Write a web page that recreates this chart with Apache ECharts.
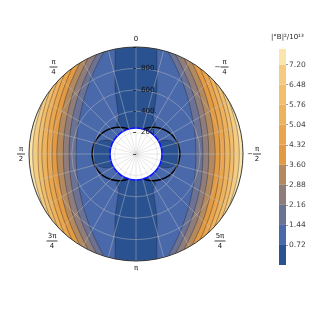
<!DOCTYPE html>
<html><head><meta charset="utf-8">
<script src="https://cdn.jsdelivr.net/npm/echarts@6/dist/echarts.min.js"></script>
<style>html,body{margin:0;padding:0;background:#fff}#c{width:311px;height:311px}</style>
</head><body><div id="c"></div>
<script>
// heights (radial units) at which contour half-widths are sampled
const ySamples = [0, 200, 400, 600, 800, 1000, 1150];
// half-width |x| of each filled-contour boundary at those heights
const c144 = [560, 550, 515, 460, 380, 275, 185];
const c216 = [625, 615, 580, 520, 435, 330, 235];
const c288 = [680, 670, 635, 580, 495, 390, 300];
const c360 = [740, 725, 690, 635, 550, 445, 350];
const c432 = [785, 775, 740, 680, 600, 500, 405];
const c504 = [830, 820, 785, 725, 645, 540, 445];
const c576 = [880, 865, 830, 765, 680, 570, 470];
const c648 = [915, 905, 865, 800, 705, 590, 485];
const c720 = [965, 950, 900, 825, 715, 600, 500];
// 0.72 contour: polar strip and equatorial lobes
const stripY = [1150, 1000, 800, 600, 400, 330, 270, 225, 205];
const stripX = [195, 195, 195, 195, 170, 160, 180, 95, 0];
const lobeX = [150, 167, 215, 280, 345, 393, 410];
const lobeY = [0, 65, 113, 130, 113, 65, 0];
// thick black boundary around the body
const sepX = [66, 117, 160, 225, 285, 337, 377, 401, 410];
const sepY = [232, 246, 250, 241, 217, 177, 125, 65, 0];
const innerRadius = 243;
const outerRadius = 1000;
// colour bar
const levels = [0, 0.72, 1.44, 2.16, 2.88, 3.60, 4.32, 5.04, 5.76, 6.48, 7.20];
const cbMax = 7.76;
const bandColors = ['#2a5290', '#4a69aa', '#6b7293', '#8e7d7a', '#b38a60', '#e29a43',
                    '#e9a64f', '#edb25d', '#f0be6d', '#f4cb80', '#fae6ad'];
const angleTicks = [0, 45, 90, 135, 180, 225, 270, 315];
const angleLabels = ['0', 'π/4', 'π/2', '3π/4', 'π', '5π/4', '-π/2', '-π/4'];
const cbTitle = '|°B|²/10¹³';

const contours = [c144, c216, c288, c360, c432, c504, c576, c648, c720];
const lineCol = 'rgba(25,25,35,0.6)';

function bandPoly(hw) {
  const n = ySamples.length, pts = [];
  for (let i = n - 1; i > 0; i--) pts.push([hw[i], -ySamples[i]]);
  for (let i = 0; i < n; i++) pts.push([hw[i], ySamples[i]]);
  for (let i = n - 1; i > 0; i--) pts.push([-hw[i], ySamples[i]]);
  for (let i = 0; i < n; i++) pts.push([-hw[i], -ySamples[i]]);
  return pts;
}
function stripPoly(sgn) {
  const pts = [];
  for (let i = 0; i < stripY.length; i++) pts.push([stripX[i], sgn * stripY[i]]);
  for (let i = stripY.length - 1; i >= 0; i--) pts.push([-stripX[i], sgn * stripY[i]]);
  return pts;
}
function lobePoly(sgn) {
  const pts = [];
  for (let i = 0; i < lobeX.length; i++) pts.push([sgn * lobeX[i], lobeY[i]]);
  for (let i = lobeX.length - 2; i > 0; i--) pts.push([sgn * lobeX[i], -lobeY[i]]);
  return pts;
}
function sepLine(sgn) {
  const pts = [];
  for (let i = 0; i < sepX.length; i++) pts.push([sgn * sepX[i], sepY[i]]);
  for (let i = sepX.length - 2; i >= 0; i--) pts.push([sgn * sepX[i], -sepY[i]]);
  return pts;
}

function renderField(params, api) {
  const c = api.coord([0, 0]);
  const r = api.size([outerRadius, 0])[0];
  const ri = api.size([innerRadius, 0])[0];
  const P = a => a.map(p => api.coord(p));
  const ch = [];
  ch.push({type: 'circle', shape: {cx: c[0], cy: c[1], r: r}, style: {fill: bandColors[10]}});
  for (let k = contours.length - 1; k >= 0; k--) {
    ch.push({type: 'polygon', shape: {points: P(bandPoly(contours[k])), smooth: 0.35},
      style: {fill: bandColors[k + 1], stroke: lineCol, lineWidth: 0.6}});
  }
  [1, -1].forEach(s => ch.push({type: 'polygon', shape: {points: P(stripPoly(s)), smooth: 0.3},
    style: {fill: bandColors[0], stroke: lineCol, lineWidth: 0.6}}));
  [1, -1].forEach(s => ch.push({type: 'polygon', shape: {points: P(lobePoly(s)), smooth: 0.4},
    style: {fill: bandColors[0], stroke: lineCol, lineWidth: 0.6}}));
  ch.push({type: 'ring', shape: {cx: c[0], cy: c[1], r0: r, r: r + 33}, style: {fill: '#ffffff'}});
  [1, -1].forEach(s => ch.push({type: 'polyline', shape: {points: P(sepLine(s)), smooth: 0.4},
    style: {fill: null, stroke: '#000', lineWidth: 1.4}}));
  ch.push({type: 'circle', shape: {cx: c[0], cy: c[1], r: ri}, style: {fill: '#fff', stroke: '#0a14ff', lineWidth: 1.6}});
  return {type: 'group', children: ch};
}

function angleFmt(v) {
  const i = angleTicks.indexOf(v);
  if (i < 0) return '';
  const lbl = angleLabels[i];
  if (lbl.indexOf('/') < 0) return '{t|' + lbl + '}';
  const neg = lbl[0] === '-';
  const s = neg ? lbl.slice(1) : lbl;
  const parts = s.split('/');
  const w = parts[0].length > 1 ? 'w' : '';
  const sp = neg ? '{sp| }' : '';
  return sp + '{n' + w + '|' + parts[0] + '}\n' + (neg ? '{m|−}' : '') + '{b' + w + '| }\n' + sp + '{n' + w + '|' + parts[1] + '}';
}

const chart = echarts.init(document.getElementById('c'), null, {renderer: 'canvas'});
const gridLine = {color: 'rgba(200,200,200,0.6)', width: 0.7};
const series = [{
  type: 'custom', xAxisIndex: 0, yAxisIndex: 0, data: [[0, 0]], renderItem: renderField,
  silent: true, clip: false, z: 1, animation: false
}];
for (let i = 0; i < bandColors.length; i++) {
  const top = i + 1 < levels.length ? levels[i + 1] : cbMax;
  series.push({type: 'bar', xAxisIndex: 1, yAxisIndex: 1, stack: 'cb', barWidth: '100%', silent: true, z: 2,
    data: [+(top - levels[i]).toFixed(4)], itemStyle: {color: bandColors[i]}});
}
chart.setOption({
  animation: false,
  textStyle: {fontFamily: 'DejaVu Sans'},
  polar: {center: [136, 154], radius: 107},
  angleAxis: {
    type: 'value', min: 0, max: 360, interval: 15, startAngle: 90, clockwise: false, z: 5,
    axisLine: {show: true, lineStyle: {color: '#111', width: 0.8}},
    axisTick: {show: false},
    splitLine: {show: true, lineStyle: gridLine},
    axisLabel: {
      formatter: angleFmt, margin: 4, color: '#111', fontSize: 7, fontFamily: 'DejaVu Sans',
      rich: {
        t: {fontSize: 7, fontFamily: 'DejaVu Sans', color: '#111'},
        n: {fontSize: 7, width: 8, align: 'center', lineHeight: 7, color: '#111'},
        nw: {fontSize: 7, width: 11, align: 'center', lineHeight: 7, color: '#111'},
        b: {width: 8, height: 0.8, lineHeight: 3, backgroundColor: '#111'},
        bw: {width: 11, height: 0.8, lineHeight: 3, backgroundColor: '#111'},
        m: {fontSize: 7, width: 6, align: 'left', lineHeight: 3, color: '#111'},
        sp: {width: 6, fontSize: 7}
      }
    }
  },
  radiusAxis: {
    type: 'value', min: 0, max: outerRadius, interval: 200, z: 5,
    axisLine: {show: false},
    axisTick: {show: true, inside: true, length: 3, lineStyle: {color: '#111', width: 0.7}},
    axisLabel: {formatter: v => (v > 0 && v < outerRadius) ? v + '.' : '', fontSize: 7, color: '#111',
      margin: -5, align: 'left'},
    splitLine: {show: true, lineStyle: gridLine}
  },
  grid: [
    {left: 29, top: 47, width: 214, height: 214},
    {left: 279, top: 49, width: 7, height: 216}
  ],
  xAxis: [
    {gridIndex: 0, type: 'value', min: -outerRadius, max: outerRadius, show: false},
    {gridIndex: 1, type: 'category', data: ['cb'], show: false}
  ],
  yAxis: [
    {gridIndex: 0, type: 'value', min: -outerRadius, max: outerRadius, show: false},
    {gridIndex: 1, type: 'value', min: 0, max: cbMax, interval: 0.72, position: 'right',
      axisLine: {show: false}, splitLine: {show: false},
      axisTick: {show: true, length: 2, lineStyle: {color: '#555', width: 0.6}},
      axisLabel: {fontSize: 7.5, color: '#444', margin: 3, showMinLabel: false, showMaxLabel: false,
        formatter: v => v.toFixed(2)}}
  ],
  graphic: [{type: 'text', left: 271, top: 34, style: {text: cbTitle, fontSize: 7, fill: '#222', fontFamily: 'DejaVu Sans'}}],
  series: series
});
</script></body></html>
